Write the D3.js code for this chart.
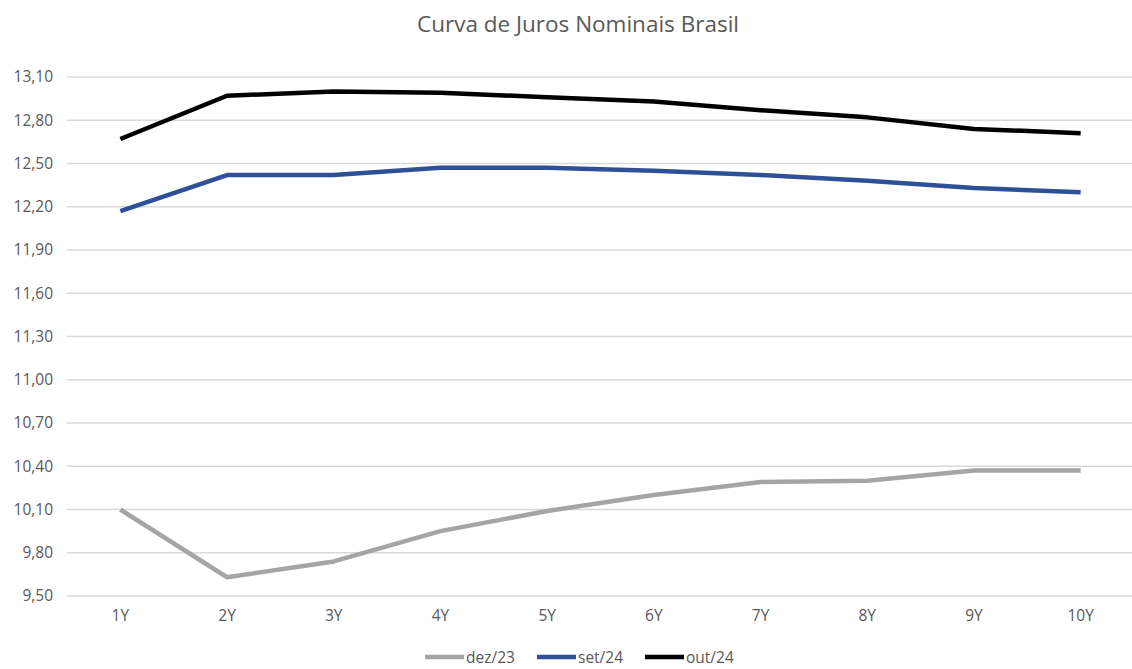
<!DOCTYPE html>
<html>
<head>
<meta charset="utf-8">
<script src="https://cdn.jsdelivr.net/npm/d3@7"></script>
<style>
  body { margin: 0; background: #fff; }
  svg { display: block; font-family: "Open Sans", "Liberation Sans", sans-serif; }
</style>
</head>
<body>
<svg id="chart" width="1132" height="669"></svg>
<script>
// Vértices da curva
const categories = ["1Y", "2Y", "3Y", "4Y", "5Y", "6Y", "7Y", "8Y", "9Y", "10Y"];
// Taxas nominais (%) por data de referência
const dez23 = [10.10, 9.63, 9.74, 9.95, 10.09, 10.20, 10.29, 10.30, 10.37, 10.37];
const set24 = [12.17, 12.42, 12.42, 12.47, 12.47, 12.45, 12.42, 12.38, 12.33, 12.30];
const out24 = [12.67, 12.97, 13.00, 12.99, 12.96, 12.93, 12.87, 12.82, 12.74, 12.71];
const yTicks = [9.50, 9.80, 10.10, 10.40, 10.70, 11.00, 11.30, 11.60, 11.90, 12.20, 12.50, 12.80, 13.10];

const series = [
  { name: "dez/23", values: dez23, color: "#a5a5a5" },
  { name: "set/24", values: set24, color: "#2f5097" },
  { name: "out/24", values: out24, color: "#000000" }
];

const svg = d3.select("#chart");
const plotLeft = 67, plotRight = 1134, plotTop = 77, plotBottom = 596;
const fontFamily = "\"Open Sans\", \"Liberation Sans\", sans-serif";
const textColor = "#595959";

const x = d3.scaleBand().domain(categories).range([plotLeft, plotRight]);
const y = d3.scaleLinear().domain([9.5, 13.1]).range([plotBottom, plotTop]);
const fmt = v => d3.format(".2f")(v).replace(".", ",");

// Título
svg.append("text")
  .attr("x", 578).attr("y", 32)
  .attr("text-anchor", "middle")
  .attr("fill", textColor)
  .attr("font-size", 22.5)
  .text("Curva de Juros Nominais Brasil");

// Linhas de grade
svg.append("g").selectAll("line")
  .data(yTicks).join("line")
  .attr("x1", plotLeft).attr("x2", 1132)
  .attr("y1", d => y(d)).attr("y2", d => y(d))
  .attr("stroke", "#d9d9d9").attr("stroke-width", 1.3);

// Eixo Y
const yAxis = svg.append("g")
  .attr("transform", `translate(${plotLeft - 14},0)`)
  .call(d3.axisLeft(y).tickValues(yTicks).tickFormat(fmt).tickSize(0).tickPadding(0));
yAxis.select(".domain").remove();
yAxis.selectAll("text")
  .attr("fill", textColor).attr("font-size", 15.5)
  .attr("font-family", fontFamily);

// Eixo X
const xAxis = svg.append("g")
  .attr("transform", `translate(0,${plotBottom + 14})`)
  .call(d3.axisBottom(x).tickSize(0).tickPadding(0));
xAxis.select(".domain").remove();
xAxis.selectAll("text")
  .attr("fill", textColor).attr("font-size", 15.5)
  .attr("font-family", fontFamily);

// Séries
const line = d3.line()
  .x((d, i) => x(categories[i]) + x.bandwidth() / 2)
  .y(d => y(d));

svg.append("g").selectAll("path")
  .data(series).join("path")
  .attr("d", s => line(s.values))
  .attr("fill", "none")
  .attr("stroke", s => s.color)
  .attr("stroke-width", 4.5)
  .attr("stroke-linejoin", "round");

// Legenda
const legendX = [425, 537, 645];
const lg = svg.append("g").selectAll("g")
  .data(series).join("g")
  .attr("transform", (s, i) => `translate(${legendX[i]},657)`);
lg.append("line")
  .attr("x1", 0).attr("x2", 39).attr("y1", 0).attr("y2", 0)
  .attr("stroke", s => s.color).attr("stroke-width", 4.5);
lg.append("text")
  .attr("x", 41).attr("y", 5.5)
  .attr("fill", textColor).attr("font-size", 15.5)
  .text(s => s.name);
</script>
</body>
</html>
